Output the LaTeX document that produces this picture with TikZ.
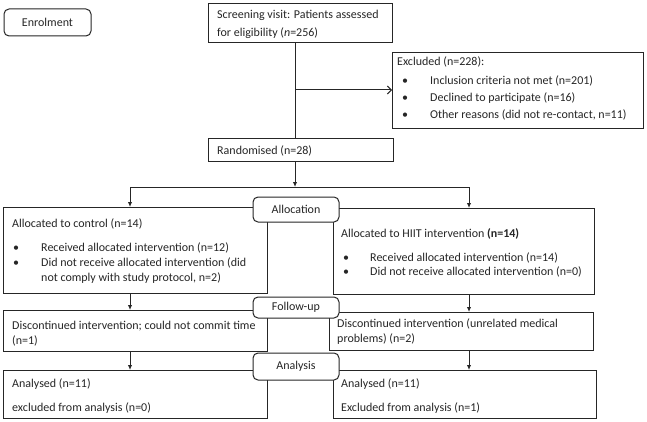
\documentclass[tikz,border=0pt]{standalone}
\usepackage{fontspec}
\setmainfont{Carlito}
\usetikzlibrary{arrows.meta}
\definecolor{ink}{HTML}{262626}
\tikzset{
  box/.style={draw=ink, line width=1pt, fill=white, inner sep=0pt, anchor=north west},
  stagebox/.style={draw=ink, line width=1pt, fill=white, rounded corners=5pt, inner sep=0pt, anchor=center, font=\fontsize{12}{14}\selectfont, text=ink},
  txt/.style={anchor=base west, inner sep=0pt, font=\fontsize{12}{14}\selectfont, text=ink},
  conn/.style={draw=ink, line width=1pt},
  arr/.style={conn, -{Latex[length=5pt,width=4.5pt]}},
  openarr/.style={conn, -{Straight Barb[length=4pt,width=8pt]}}
}
\begin{document}
\begin{tikzpicture}[x=1pt,y=-1pt]
\useasboundingbox (0,0) rectangle (647,422);
% boxes
\node[box, minimum width=184pt, minimum height=39pt] (screen) at (208,3) {};
\node[box, minimum width=251pt, minimum height=76pt] (excl) at (392,52) {};
\node[box, minimum width=185pt, minimum height=23pt] (rand) at (208,138) {};
\node[box, minimum width=264pt, minimum height=86pt] (allocL) at (3,207) {};
\node[box, minimum width=261pt, minimum height=86pt] (allocR) at (333,208) {};
\node[box, minimum width=264pt, minimum height=41pt] (followL) at (3,310) {};
\node[box, minimum width=264pt, minimum height=38pt] (followR) at (329,312) {};
\node[box, minimum width=264pt, minimum height=48pt] (analL) at (3,370) {};
\node[box, minimum width=263pt, minimum height=48pt] (analR) at (333,370) {};
% enrolment
\node[stagebox, minimum width=87pt, minimum height=27pt] (enrol) at (47.5,22.5) {Enrolment};
% connectors
\coordinate (branch) at (295,90);
\coordinate (split) at (295,187);
\coordinate (lsplit) at (130,187);
\coordinate (rsplit) at (469,187);
\draw[conn] (screen.south -| branch) -- (rand.north -| branch);
\draw[openarr] (branch) -- (excl.west |- branch);
\draw[arr] (rand.south -| split) -- (split);
\draw[conn] (lsplit) -- (rsplit);
\draw[arr] (lsplit) -- (allocL.north -| lsplit);
\draw[arr] (rsplit) -- (allocR.north -| rsplit);
\draw[arr] (allocL.south -| lsplit) -- (followL.north -| lsplit);
\draw[arr] (allocR.south -| rsplit) -- (followR.north -| rsplit);
\draw[arr] (followL.south -| lsplit) -- (analL.north -| lsplit);
\draw[arr] (followR.south -| rsplit) -- (analR.north -| rsplit);
% stage labels
\node[stagebox, minimum width=86pt, minimum height=25pt] (allocation) at (296,209.5) {Allocation};
\node[stagebox, minimum width=86pt, minimum height=21pt] (followup) at (296,307.5) {Follow-up};
\node[stagebox, minimum width=86pt, minimum height=27pt] (analysis) at (296,366.5) {Analysis};
% texts
\node[txt] (s1) at (217,19) {Screening visit: Patients assessed};
\node[txt] (s2) at (217,37) {for eligibility (\textit{n}=256)};
\node[txt] (e0) at (397,66) {Excluded (n=228):};
\node[txt] (eb1) at (402,85) {•};
\node[txt] (e1) at (430,85) {Inclusion criteria not met (n=201)};
\node[txt] (eb2) at (402,102) {•};
\node[txt] (e2) at (430,102) {Declined to participate (n=16)};
\node[txt] (eb3) at (402,119) {•};
\node[txt] (e3) at (430,119) {Other reasons (did not re-contact, n=11)};
\node[txt] (r1) at (217,155) {Randomised (n=28)};
\node[txt] (al0) at (12,227) {Allocated to control (n=14)};
\node[txt] (alb1) at (13,251) {•};
\node[txt] (al1) at (41,251) {Received allocated intervention (n=12)};
\node[txt] (alb2) at (13,266) {•};
\node[txt] (al2) at (41,266) {Did not receive allocated intervention (did};
\node[txt] (al3) at (41,281) {not comply with study protocol, n=2)};
\node[txt] (ar0) at (341,237) {Allocated to HIIT intervention \textbf{(n=14)}};
\node[txt] (arb1) at (343,261) {•};
\node[txt] (ar1) at (370,261) {Received allocated intervention (n=14)};
\node[txt] (arb2) at (343,275) {•};
\node[txt] (ar2) at (370,275) {Did not receive allocated intervention (n=0)};
\node[txt] (fl1) at (12,329) {Discontinued intervention; could not commit time};
\node[txt] (fl2) at (12,344) {(n=1)};
\node[txt] (fr1) at (337,327) {Discontinued intervention (unrelated medical};
\node[txt] (fr2) at (337,342) {problems) (n=2)};
\node[txt] (nl1) at (12,387) {Analysed (n=11)};
\node[txt] (nl2) at (12,411) {excluded from analysis (n=0)};
\node[txt] (nr1) at (341,387) {Analysed (n=11)};
\node[txt] (nr2) at (341,411) {Excluded from analysis (n=1)};
\end{tikzpicture}
\end{document}
